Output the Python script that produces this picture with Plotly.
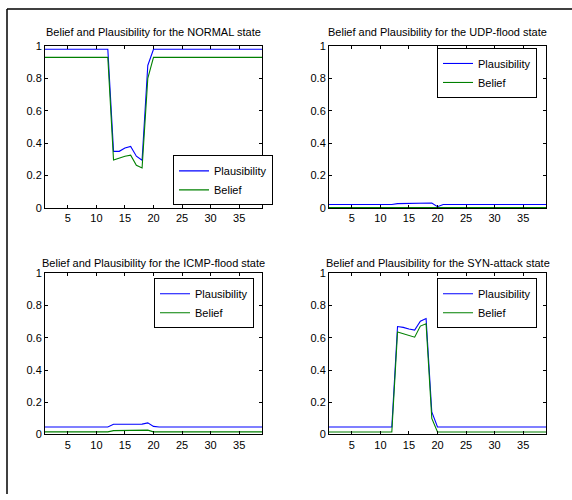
import plotly.graph_objects as go
from plotly.subplots import make_subplots

# ---------------- data ----------------
steps = list(range(1, 40))

titles = [
    "Belief and Plausibility for the NORMAL state",
    "Belief and Plausibility for the UDP-flood state",
    "Belief and Plausibility for the ICMP-flood state",
    "Belief and Plausibility for the SYN-attack state",
]

normal_pl = [0.98] * 12 + [0.35, 0.35, 0.37, 0.38, 0.32, 0.295, 0.88] + [0.98] * 20
normal_be = [0.93] * 12 + [0.296, 0.31, 0.32, 0.326, 0.264, 0.247, 0.80] + [0.93] * 20

udp_pl = [0.022] * 12 + [0.027, 0.028, 0.028, 0.028, 0.028, 0.028, 0.031, 0.008] + [0.022] * 19
udp_be = [0.003] * 12 + [0.004, 0.004, 0.004, 0.004, 0.004, 0.004, 0.004] + [0.003] * 20

icmp_pl = [0.046] * 12 + [0.063, 0.063, 0.063, 0.063, 0.063, 0.064, 0.072, 0.05] + [0.046] * 19
icmp_be = [0.016] * 12 + [0.024, 0.024, 0.024, 0.024, 0.024, 0.025, 0.027] + [0.016] * 20

syn_pl = [0.046] * 12 + [0.67, 0.665, 0.655, 0.648, 0.703, 0.72, 0.14] + [0.046] * 20
syn_be = [0.015] * 12 + [0.636, 0.625, 0.615, 0.604, 0.673, 0.687, 0.10] + [0.015] * 20

plaus = [normal_pl, udp_pl, icmp_pl, syn_pl]
belief = [normal_be, udp_be, icmp_be, syn_be]

x_ticks = [5, 10, 15, 20, 25, 30, 35]
y_ticks = [0, 0.2, 0.4, 0.6, 0.8, 1]
y_tick_text = ["0", "0.2", "0.4", "0.6", "0.8", "1"]

# ---------------- figure ----------------
W, H = 572, 500
FONT = "Liberation Sans, Arial, Helvetica, sans-serif"

fig = make_subplots(rows=2, cols=2)

# pixel boxes of each axis (left, right, top, bottom)
boxes = [
    (45, 262, 41, 207),
    (329, 546, 41, 207),
    (45, 262, 274, 439),
    (329, 546, 274, 439),
]
legend_pos = [(173, 153), (437, 43), (154, 279), (437, 279)]
title_y = [27, 27, 263, 263]

legend_names = ["legend", "legend2", "legend3", "legend4"]
positions = [(1, 1), (1, 2), (2, 1), (2, 2)]

for i in range(4):
    r, c = positions[i]
    lg = legend_names[i]
    fig.add_trace(go.Scatter(x=steps, y=plaus[i], mode="lines", name="Plausibility",
                             line=dict(color="#0000ff", width=1.1), legend=lg,
                             showlegend=True), row=r, col=c)
    fig.add_trace(go.Scatter(x=steps, y=belief[i], mode="lines", name="Belief",
                             line=dict(color="#008000", width=1.1), legend=lg,
                             showlegend=True), row=r, col=c)

layout = dict(
    width=W, height=H,
    margin=dict(l=0, r=0, t=0, b=0),
    paper_bgcolor="white", plot_bgcolor="white",
    font=dict(family=FONT, size=11, color="black"),
    showlegend=True,
)

for i in range(4):
    l, rr, t, b = boxes[i]
    sfx = "" if i == 0 else str(i + 1)
    layout["xaxis" + sfx] = dict(
        domain=[l / W, rr / W], range=[1, 39],
        tickmode="array", tickvals=x_ticks,
        ticks="inside", ticklen=3, tickcolor="black",
        showline=True, linecolor="black", linewidth=1, mirror="ticks",
        showgrid=False, zeroline=False,
        tickfont=dict(family=FONT, size=11, color="black"),
        fixedrange=True,
    )
    layout["yaxis" + sfx] = dict(
        domain=[1 - b / H, 1 - t / H], range=[0, 1],
        tickmode="array", tickvals=y_ticks, ticktext=y_tick_text,
        ticks="inside", ticklen=3, tickcolor="black",
        showline=True, linecolor="black", linewidth=1, mirror="ticks",
        showgrid=False, zeroline=False,
        tickfont=dict(family=FONT, size=11, color="black"),
        fixedrange=True,
    )
    lx, ly = legend_pos[i]
    layout[legend_names[i]] = dict(
        x=lx / W, y=1 - ly / H, xanchor="left", yanchor="top",
        xref="paper", yref="paper",
        bgcolor="white", bordercolor="black", borderwidth=1,
        font=dict(family=FONT, size=11, color="black"),
        tracegroupgap=0,
    )

fig.update_layout(**layout)

for i in range(4):
    l, rr, t, b = boxes[i]
    fig.add_annotation(
        text=titles[i], x=(l + rr) / 2 / W, y=1 - title_y[i] / H,
        xref="paper", yref="paper", xanchor="center", yanchor="middle",
        showarrow=False, font=dict(family=FONT, size=11, color="black"),
    )

# outer frame lines (top and left)
fig.add_shape(type="line", xref="paper", yref="paper",
              x0=7 / W, x1=1, y0=1 - 3 / H, y1=1 - 3 / H,
              line=dict(color="black", width=1.5))
fig.add_shape(type="line", xref="paper", yref="paper",
              x0=7 / W, x1=7 / W, y0=0, y1=1 - 3 / H,
              line=dict(color="black", width=1.5))

fig.write_html("out.html")
